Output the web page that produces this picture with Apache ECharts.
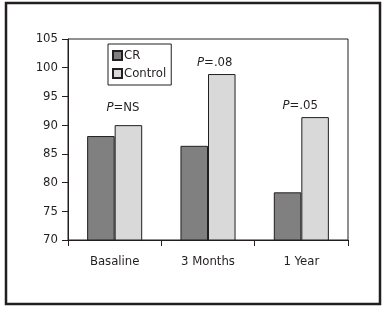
<!DOCTYPE html>
<html>
<head>
<meta charset="utf-8">
<script src="https://cdn.jsdelivr.net/npm/echarts@6/dist/echarts.min.js"></script>
<style>
  html, body { margin: 0; padding: 0; background: #fff; }
  #chart { width: 387px; height: 311px; }
</style>
</head>
<body>
<div id="chart"></div>
<script>
const categories = ['Basaline', '3 Months', '1 Year'];
const crValues = [88.1, 86.4, 78.3];
const controlValues = [90.0, 98.9, 91.4];
const pValues = ['NS', '.08', '.05'];
const yTicks = [70, 75, 80, 85, 90, 95, 100, 105];

const FONT = "'Liberation Sans Narrow', 'DejaVu Sans Condensed', sans-serif";
const INK = '#231f20';
// nudge for each P label so it sits where the original put it
const pOffsets = [[-5.5, -6], [-7, 0], [-15, 0]];

const myChart = echarts.init(document.getElementById('chart'));

const option = {
  animation: false,
  textStyle: { fontFamily: FONT, color: INK },
  graphic: [{
    type: 'rect',
    shape: { x: 6, y: 3, width: 374, height: 301 },
    style: { fill: 'none', stroke: INK, lineWidth: 2.5 },
    silent: true
  }],
  grid: {
    left: 68, right: 39, top: 39, bottom: 71,
    show: true, borderColor: INK, borderWidth: 1
  },
  legend: {
    orient: 'vertical',
    left: 108, top: 44,
    itemWidth: 9, itemHeight: 9, itemGap: 5,
    padding: [5, 5, 5, 4],
    borderColor: INK, borderWidth: 1,
    icon: 'rect',
    textStyle: { fontFamily: FONT, fontSize: 13, color: INK, padding: [0, 0, 0, -3] },
    data: ['CR', 'Control']
  },
  xAxis: {
    type: 'category',
    data: categories,
    axisLine: { lineStyle: { color: INK, width: 1 } },
    axisTick: { show: true, length: 6, lineStyle: { color: INK } },
    axisLabel: { fontSize: 13, color: INK, margin: 15, fontFamily: FONT }
  },
  yAxis: {
    type: 'value',
    min: yTicks[0], max: yTicks[yTicks.length - 1], interval: 5,
    axisLine: { show: true, lineStyle: { color: INK, width: 1 } },
    axisTick: { show: true, length: 6, lineStyle: { color: INK } },
    splitLine: { show: false },
    axisLabel: { fontSize: 13, color: INK, margin: 10, fontFamily: FONT }
  },
  series: [
    {
      name: 'CR',
      type: 'bar',
      data: crValues,
      barGap: '0%',
      barCategoryGap: '41%',
      itemStyle: { color: '#808080', borderColor: INK, borderWidth: 1 }
    },
    {
      name: 'Control',
      type: 'bar',
      barGap: '0%',
      barCategoryGap: '41%',
      itemStyle: { color: '#d9d9d9', borderColor: INK, borderWidth: 1 },
      data: controlValues.map((v, i) => ({
        value: v,
        label: {
          show: true,
          position: 'top',
          distance: 5,
          offset: pOffsets[i],
          fontSize: 13,
          fontFamily: FONT,
          color: INK,
          formatter: '{it|P}=' + pValues[i],
          rich: {
            it: { fontStyle: 'italic', fontSize: 13, fontFamily: FONT, color: INK }
          }
        }
      }))
    }
  ]
};
myChart.setOption(option);
</script>
</body>
</html>
